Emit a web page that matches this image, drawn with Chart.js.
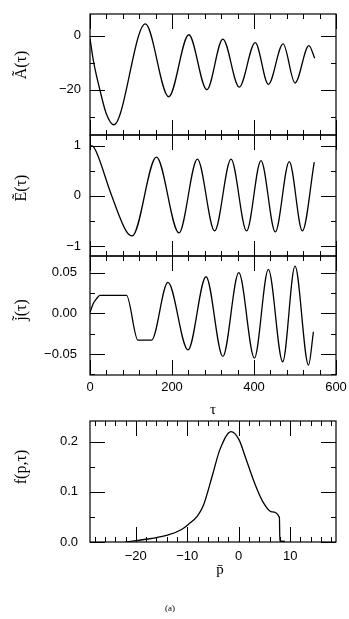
<!DOCTYPE html>
<html>
<head>
<meta charset="utf-8">
<script src="https://cdn.jsdelivr.net/npm/chart.js@4.4.1/dist/chart.umd.min.js"></script>
<style>
html, body { margin: 0; padding: 0; background: #fff; }
#wrap { position: relative; width: 349px; height: 619px; overflow: hidden; }
.panel { position: absolute; left: 0; width: 349px; }
</style>
</head>
<body>
<div id="wrap">
  <div class="panel" style="top:0px;height:140px"><canvas id="cA"></canvas></div>
  <div class="panel" style="top:130px;height:131px"><canvas id="cE"></canvas></div>
  <div class="panel" style="top:251px;height:165px"><canvas id="cJ"></canvas></div>
  <div class="panel" style="top:416px;height:203px"><canvas id="cF"></canvas></div>
</div>
<script>
// values (extrema + a few shape points)
const tauA = [0, 8, 24, 40, 58, 135, 192, 241, 285, 324, 364, 403, 435, 471, 500, 534, 548];
const valA = [-1, -9, -20, -29, -33, 4.4, -22.6, 0.4, -20, -1.2, -19, -2.5, -18, -3, -17.5, -3.6, -8.3];

const tauE = [0, 6, 15, 52, 88, 103, 162, 217, 262, 304, 344, 382, 417, 452, 486, 518, 547];
const valE = [1, 0.99, 0.88, 0.02, -0.7, -0.8, 0.77, -0.74, 0.73, -0.70, 0.73, -0.70, 0.70, -0.72, 0.68, -0.70, 0.67];

const tauJ = [0, 8, 16, 24, 89, 117, 150, 190, 239, 283, 324, 363, 401, 435, 470, 500, 533, 545];
const valJ = [0.001, 0.012, 0.018, 0.022, 0.022, -0.033, -0.033, 0.038, -0.045, 0.045, -0.053, 0.05, -0.055, 0.054, -0.0595, 0.058, -0.0635, -0.0226];

const pF = [-22, -17, -13.7, -11.1, -9.8, -8, -6.9, -5, -3.7, -1.5, 0, 1.5, 3.1, 4.7, 6.4, 7.9, 8.0, 9.0];
const valF = [0, 0.007, 0.014, 0.025, 0.035, 0.052, 0.072, 0.137, 0.183, 0.22, 0.205, 0.163, 0.117, 0.08, 0.06, 0.049, 0.002, 0.001];

const xTicksTau = [0, 200, 400, 600];
const xTicksP = [-20, -10, 0, 10];

Chart.defaults.color = '#000';
Chart.defaults.font.family = "'Liberation Sans', Arial, sans-serif";
Chart.defaults.font.size = 13;

const TITLE_FONT = "16px 'Liberation Serif', 'DejaVu Serif', serif";

function isMajor(v, m) {
    return Math.abs(v / m - Math.round(v / m)) < 1e-6;
}

function fmt(v, d) {
    let s = Math.abs(v) < 1e-9 ? (0).toFixed(d) : v.toFixed(d);
    return s.replace('-', '\u2212');
}

// frame, inward ticks and free labels
const framePlugin = {
    id: 'frame',
    afterDatasetsDraw(chart, args, opts) {
        const { ctx, chartArea: a } = chart;
        const x = chart.scales.x, y = chart.scales.y;
        ctx.save();
        ctx.strokeStyle = '#000';
        ctx.lineWidth = 1.2;
        ctx.strokeRect(a.left, a.top, a.right - a.left, a.bottom - a.top);
        ctx.lineWidth = 1;
        ctx.beginPath();
        x.ticks.forEach(t => {
            const px = Math.round(x.getPixelForValue(t.value)) + 0.5;
            const len = isMajor(t.value, opts.xMajor) ? 15 : 5;
            ctx.moveTo(px, a.bottom); ctx.lineTo(px, a.bottom - len);
            ctx.moveTo(px, a.top); ctx.lineTo(px, a.top + len);
        });
        y.ticks.forEach(t => {
            const py = Math.round(y.getPixelForValue(t.value)) + 0.5;
            const len = isMajor(t.value, opts.yMajor) ? 15 : 5;
            ctx.moveTo(a.left, py); ctx.lineTo(a.left + len, py);
            ctx.moveTo(a.right, py); ctx.lineTo(a.right - len, py);
        });
        ctx.stroke();
        ctx.fillStyle = '#000';
        (opts.notes || []).forEach(n => {
            ctx.save();
            ctx.translate(n.x, n.y);
            ctx.rotate(n.rot || 0);
            ctx.font = n.font || TITLE_FONT;
            ctx.textAlign = 'center';
            ctx.textBaseline = 'middle';
            ctx.fillText(n.text, 0, 0);
            ctx.restore();
        });
        ctx.restore();
    }
};

function makePanel(id, xs, ys, c) {
    const ctx = document.getElementById(id).getContext('2d');
    return new Chart(ctx, {
        type: 'line',
        data: {
            datasets: [{
                data: xs.map((v, i) => ({ x: v, y: ys[i] })),
                borderColor: '#000',
                borderWidth: 1.3,
                pointRadius: 0,
                fill: false,
                cubicInterpolationMode: 'monotone'
            }]
        },
        options: {
            responsive: true,
            maintainAspectRatio: false,
            animation: false,
            layout: { padding: { top: c.padTop, bottom: 0, left: 0, right: 13 } },
            scales: {
                x: {
                    type: 'linear',
                    min: c.xMin, max: c.xMax,
                    grid: { display: false, drawTicks: false },
                    border: { display: false },
                    ticks: {
                        display: c.xLabels,
                        stepSize: c.xStep,
                        autoSkip: false,
                        includeBounds: false,
                        maxRotation: 0,
                        padding: c.xPad || 4,
                        callback: v => isMajor(v, c.xMajor) ? fmt(v, 0) : ''
                    },
                    afterFit: s => { s.height = c.xHeight; s.paddingLeft = 0; s.paddingRight = 0; }
                },
                y: {
                    min: c.yMin, max: c.yMax,
                    grid: { display: false, drawTicks: false },
                    border: { display: false },
                    ticks: {
                        stepSize: c.yStep,
                        autoSkip: false,
                        includeBounds: false,
                        padding: c.yPad,
                        callback: v => isMajor(v, c.yMajor) ? fmt(v, c.yDigits) : ''
                    },
                    afterFit: s => { s.width = 90; s.paddingTop = 0; s.paddingBottom = 0; }
                }
            },
            plugins: {
                legend: { display: false },
                tooltip: { enabled: false },
                frame: { xMajor: c.xMajor, yMajor: c.yMajor, notes: c.notes }
            }
        },
        plugins: [framePlugin]
    });
}

window.onload = () => {
    makePanel('cA', tauA, valA, {
        padTop: 14, xHeight: 5, xLabels: false,
        xMin: 0, xMax: 600, xStep: 40, xMajor: 200,
        yMin: -36.8, yMax: 8.1, yStep: 10, yMajor: 20, yDigits: 0, yPad: 9,
        notes: [{ text: 'Ã(τ)', x: 22, y: 65, rot: -Math.PI / 2 }]
    });
    makePanel('cE', tauE, valE, {
        padTop: 5, xHeight: 5, xLabels: false,
        xMin: 0, xMax: 600, xStep: 40, xMajor: 200,
        yMin: -1.2, yMax: 1.21, yStep: 0.5, yMajor: 1, yDigits: 0, yPad: 9,
        notes: [{ text: 'Ẽ(τ)', x: 22, y: 58, rot: -Math.PI / 2 }]
    });
    makePanel('cJ', tauJ, valJ, {
        padTop: 5, xHeight: 41, xLabels: true, xPad: 5,
        xMin: 0, xMax: 600, xStep: 40, xMajor: 200,
        yMin: -0.0758, yMax: 0.0705, yStep: 0.025, yMajor: 0.05, yDigits: 2, yPad: 13,
        notes: [
            { text: 'j̃(τ)', x: 22, y: 59, rot: -Math.PI / 2 },
            { text: 'τ', x: 213, y: 159, font: "15px 'Liberation Serif', serif" }
        ]
    });
    makePanel('cF', pF, valF, {
        padTop: 5, xHeight: 77, xLabels: true, xPad: 7,
        xMin: -28.9, xMax: 18.9, xStep: 2, xMajor: 10,
        yMin: 0, yMax: 0.241, yStep: 0.05, yMajor: 0.1, yDigits: 1, yPad: 12,
        notes: [
            { text: 'f(p,τ)', x: 22, y: 51, rot: -Math.PI / 2 },
            { text: 'p̄', x: 220, y: 154, font: "15px 'Liberation Serif', serif" },
            { text: '(a)', x: 170, y: 193, font: "9px 'Liberation Serif', serif" }
        ]
    });
};
</script>
</body>
</html>
